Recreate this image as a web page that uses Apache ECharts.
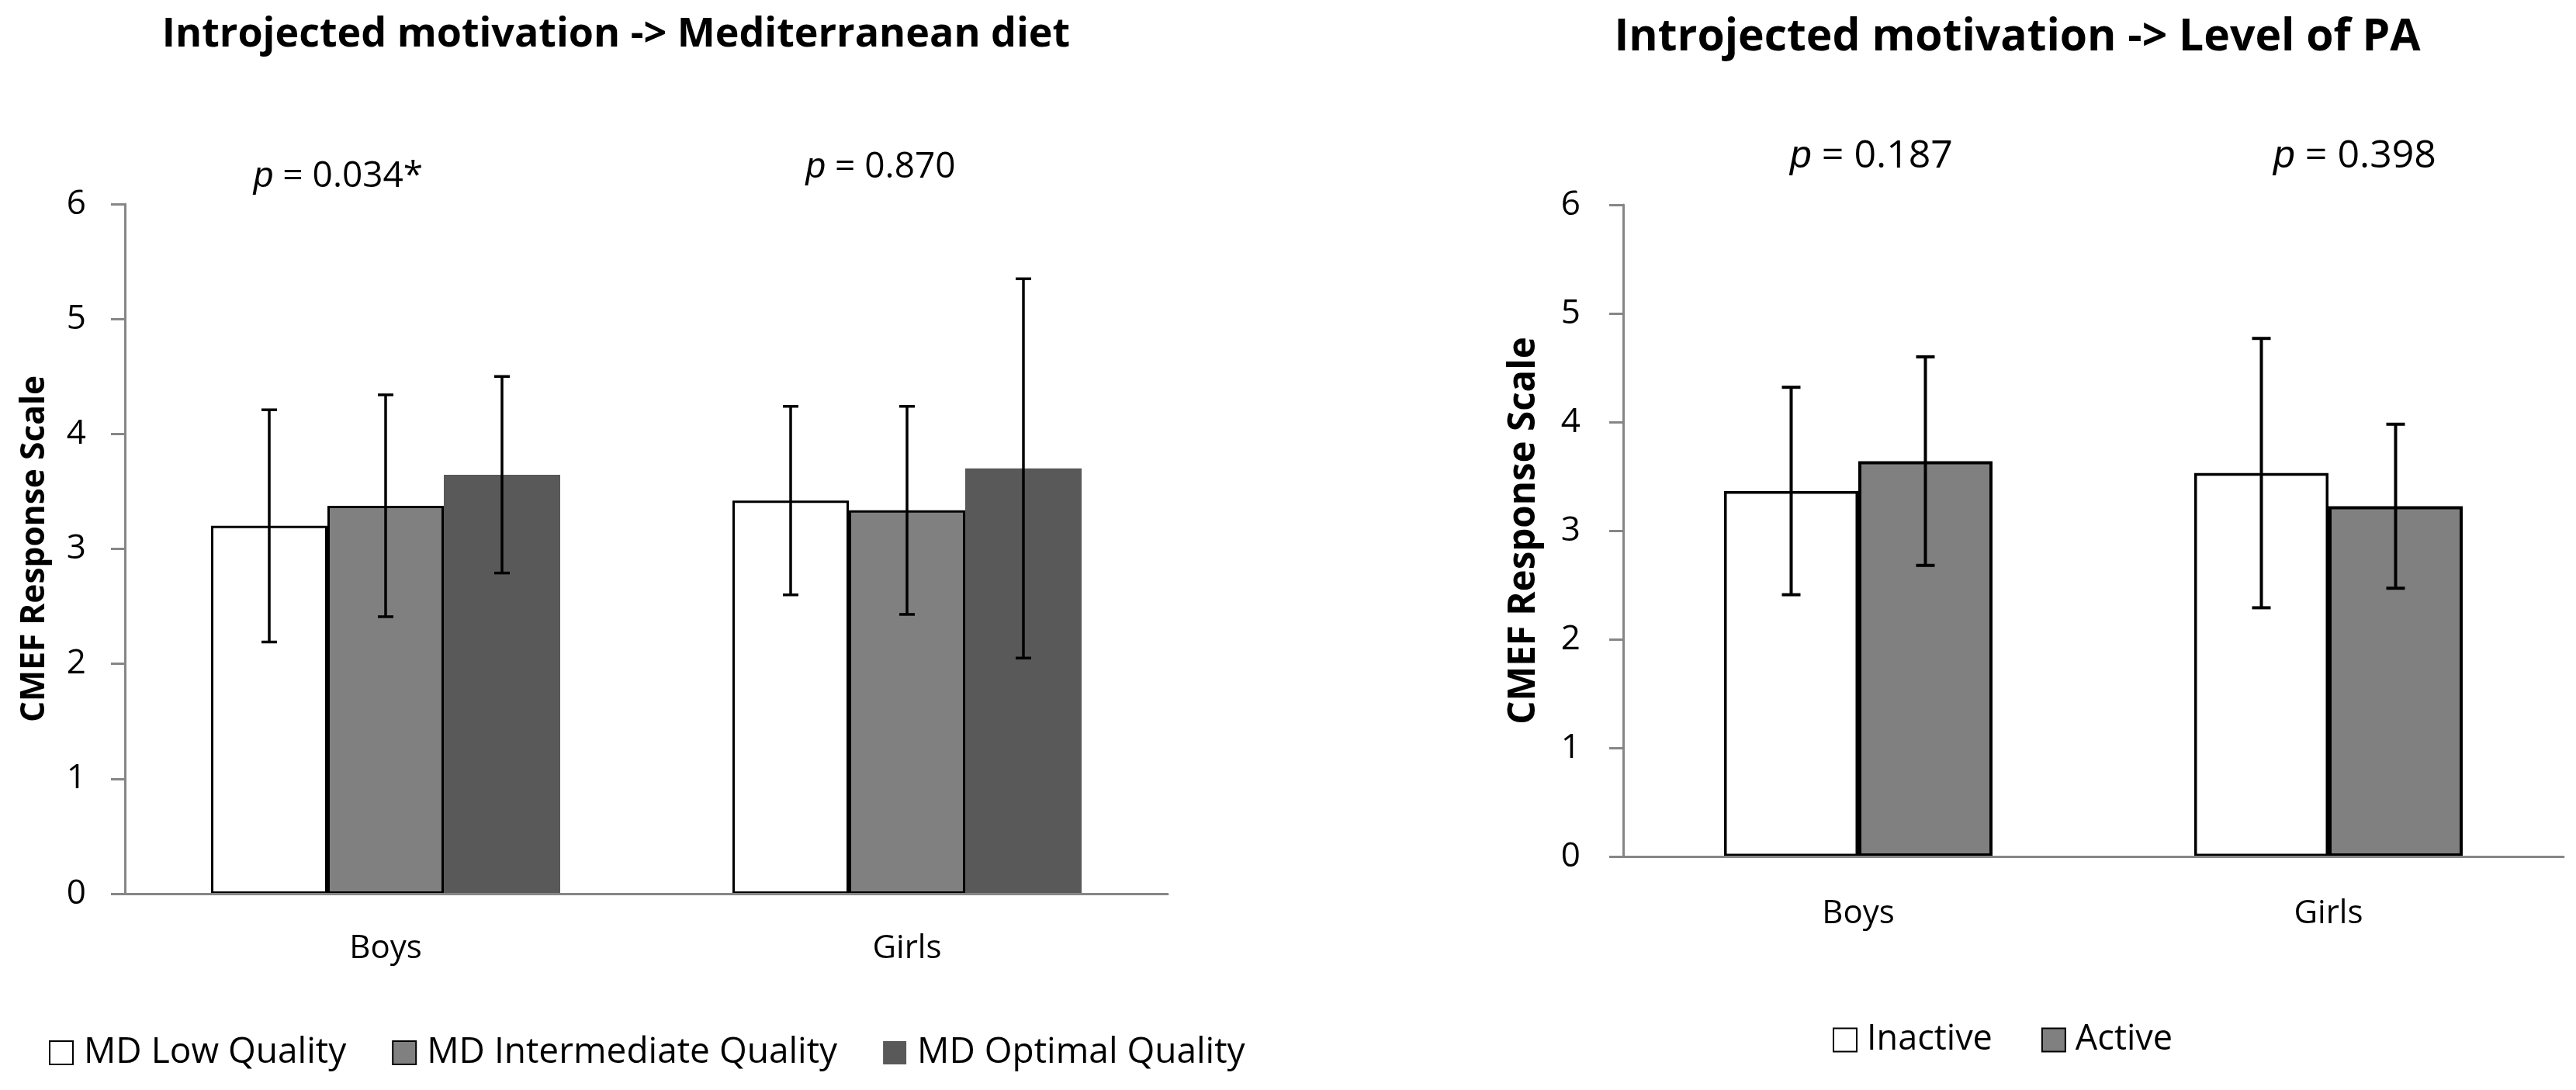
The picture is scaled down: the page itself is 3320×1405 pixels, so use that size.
<!DOCTYPE html>
<html><head><meta charset="utf-8">
<script src="https://cdn.jsdelivr.net/npm/echarts@6/dist/echarts.min.js"></script>
<style>html,body{margin:0;padding:0;background:#fff}#c{width:3320px;height:1405px}</style>
</head><body><div id="c"></div>
<script>
// ---------- data ----------
const categories = ['Boys', 'Girls'];
const yMin = 0, yMax = 6, yStep = 1;

const mdSeriesNames = ['MD Low Quality', 'MD Intermediate Quality', 'MD Optimal Quality'];
const mdLowMean   = [3.20, 3.42];
const mdLowSD     = [1.01, 0.82];
const mdInterMean = [3.375, 3.335];
const mdInterSD   = [0.965, 0.905];
const mdOptMean   = [3.645, 3.70];
const mdOptSD     = [0.855, 1.65];
const mdPValues   = ['0.034*', '0.870'];

const paSeriesNames = ['Inactive', 'Active'];
const paInactiveMean = [3.365, 3.53];
const paInactiveSD   = [0.955, 1.24];
const paActiveMean   = [3.64, 3.225];
const paActiveSD     = [0.96, 0.755];
const paPValues      = ['0.187', '0.398'];

const titleMD = 'Introjected motivation -> Mediterranean diet';
const titlePA = 'Introjected motivation -> Level of PA';
const yAxisName = 'CMEF Response Scale';

// ---------- style ----------
const FF = '"Open Sans", "Noto Sans", sans-serif';
const AXIS_GRAY = '#868686';

function errorSeries(name, means, sds, gi, idx, n, barW, cap, lw) {
  return {
    type: 'custom', name: name, xAxisIndex: gi, yAxisIndex: gi, z: 5,
    silent: true,
    data: means.map((m, i) => [i, m, sds[i]]),
    encode: { x: 0, y: 1 },
    renderItem: function (params, api) {
      const c = api.value(0), m = api.value(1), s = api.value(2);
      const off = (idx - (n - 1) / 2) * barW;
      const top = api.coord([c, m + s]);
      const bot = api.coord([c, m - s]);
      const x = top[0] + off;
      const st = { stroke: '#000', lineWidth: lw };
      return { type: 'group', children: [
        { type: 'line', shape: { x1: x, y1: top[1], x2: x, y2: bot[1] }, style: st },
        { type: 'line', shape: { x1: x - cap, y1: top[1], x2: x + cap, y2: top[1] }, style: st },
        { type: 'line', shape: { x1: x - cap, y1: bot[1], x2: x + cap, y2: bot[1] }, style: st }
      ]};
    }
  };
}

function xAxisCfg(gi, margin) {
  return {
    gridIndex: gi, type: 'category', data: categories, z: 10,
    axisLine: { show: true, lineStyle: { color: AXIS_GRAY, width: 3 } },
    axisTick: { show: false },
    axisLabel: { fontSize: 42, fontFamily: FF, color: '#000', margin: margin },
    splitLine: { show: false }
  };
}
function yAxisCfg(gi, margin, nameGap, nameSize) {
  return {
    gridIndex: gi, type: 'value', min: yMin, max: yMax, interval: yStep,
    axisLine: { show: true, lineStyle: { color: AXIS_GRAY, width: 3 } },
    axisTick: { show: true, length: 18, lineStyle: { color: AXIS_GRAY, width: 3 } },
    axisLabel: { fontSize: 44, fontFamily: FF, color: '#000', margin: margin },
    splitLine: { show: false },
    name: yAxisName, nameLocation: 'middle', nameGap: nameGap,
    nameTextStyle: { fontSize: nameSize, fontFamily: FF, fontWeight: 'bold', color: '#000' }
  };
}

const MDW = 150, PAW = 173;

const option = {
  animation: false,
  backgroundColor: '#fff',
  grid: [
    { left: 161, top: 263, width: 1344, height: 889 },
    { left: 2092, top: 264, width: 1212, height: 840 }
  ],
  xAxis: [xAxisCfg(0, 50), xAxisCfg(1, 53)],
  yAxis: [yAxisCfg(0, 50, 95, 42.5), yAxisCfg(1, 55, 104, 47.5)],
  legend: [
    { data: mdSeriesNames, left: 63, top: 1334, padding: 0, itemWidth: 30, itemHeight: 30,
      itemGap: 59, icon: 'rect',
      textStyle: { fontSize: 46, fontFamily: FF, color: '#000', padding: [0, 0, 0, 9] } },
    { data: paSeriesNames, left: 2362, top: 1318, padding: 0, itemWidth: 30, itemHeight: 30,
      itemGap: 63, icon: 'rect',
      textStyle: { fontSize: 45, fontFamily: FF, color: '#000', padding: [0, 0, 0, 8] } }
  ],
  series: [
    { type: 'bar', name: mdSeriesNames[0], xAxisIndex: 0, yAxisIndex: 0, data: mdLowMean,
      barWidth: MDW, barGap: '0%', itemStyle: { color: '#ffffff', borderColor: '#000', borderWidth: 3 } },
    { type: 'bar', name: mdSeriesNames[1], xAxisIndex: 0, yAxisIndex: 0, data: mdInterMean,
      barWidth: MDW, barGap: '0%', itemStyle: { color: '#808080', borderColor: '#000', borderWidth: 3 } },
    { type: 'bar', name: mdSeriesNames[2], xAxisIndex: 0, yAxisIndex: 0, data: mdOptMean,
      barWidth: MDW, barGap: '0%', itemStyle: { color: '#595959', borderWidth: 0 } },
    errorSeries('sd0', mdLowMean, mdLowSD, 0, 0, 3, MDW, 10, 3.5),
    errorSeries('sd1', mdInterMean, mdInterSD, 0, 1, 3, MDW, 10, 3.5),
    errorSeries('sd2', mdOptMean, mdOptSD, 0, 2, 3, MDW, 10, 3.5),

    { type: 'bar', name: paSeriesNames[0], xAxisIndex: 1, yAxisIndex: 1, data: paInactiveMean,
      barWidth: PAW, barGap: '0%', itemStyle: { color: '#ffffff', borderColor: '#000', borderWidth: 3.5 } },
    { type: 'bar', name: paSeriesNames[1], xAxisIndex: 1, yAxisIndex: 1, data: paActiveMean,
      barWidth: PAW, barGap: '0%', itemStyle: { color: '#808080', borderColor: '#000', borderWidth: 4 } },
    errorSeries('sd3', paInactiveMean, paInactiveSD, 1, 0, 2, PAW, 12, 4),
    errorSeries('sd4', paActiveMean, paActiveSD, 1, 1, 2, PAW, 12, 4)
  ],
  graphic: [
    { type: 'text', x: 794, y: 45, style: { text: titleMD, font: 'bold 52px ' + FF, fill: '#000',
      textAlign: 'center', textVerticalAlign: 'middle', align: 'center', verticalAlign: 'middle' } },
    { type: 'text', x: 2600, y: 49, style: { text: titlePA, font: 'bold 57px ' + FF, fill: '#000',
      textAlign: 'center', textVerticalAlign: 'middle', align: 'center', verticalAlign: 'middle' } },
    { type: 'text', x: 436, y: 228, style: { text: '{i|p} = ' + mdPValues[0], font: '46px ' + FF, fill: '#000',
      rich: { i: { font: 'italic 46px ' + FF, fontStyle: 'italic', fontSize: 46, fill: '#000' } },
      textAlign: 'center', textVerticalAlign: 'middle', align: 'center', verticalAlign: 'middle' } },
    { type: 'text', x: 1135, y: 216, style: { text: '{i|p} = ' + mdPValues[1], font: '46px ' + FF, fill: '#000',
      rich: { i: { font: 'italic 46px ' + FF, fontStyle: 'italic', fontSize: 46, fill: '#000' } },
      textAlign: 'center', textVerticalAlign: 'middle', align: 'center', verticalAlign: 'middle' } },
    { type: 'text', x: 2412, y: 202, style: { text: '{i|p} = ' + paPValues[0], font: '50px ' + FF, fill: '#000',
      rich: { i: { font: 'italic 50px ' + FF, fontStyle: 'italic', fontSize: 50, fill: '#000' } },
      textAlign: 'center', textVerticalAlign: 'middle', align: 'center', verticalAlign: 'middle' } },
    { type: 'text', x: 3035, y: 202, style: { text: '{i|p} = ' + paPValues[1], font: '50px ' + FF, fill: '#000',
      rich: { i: { font: 'italic 50px ' + FF, fontStyle: 'italic', fontSize: 50, fill: '#000' } },
      textAlign: 'center', textVerticalAlign: 'middle', align: 'center', verticalAlign: 'middle' } }
  ]
};

const chart = echarts.init(document.getElementById('c'), null, { renderer: 'canvas' });
chart.setOption(option);
</script>
</body></html>
